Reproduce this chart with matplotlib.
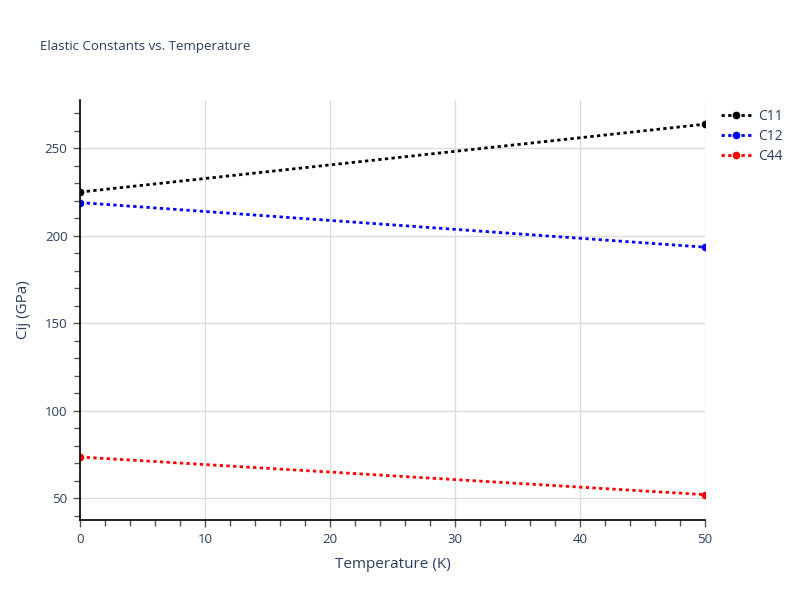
import matplotlib.pyplot as plt
from matplotlib.ticker import MultipleLocator

plt.rcParams['font.family'] = ['Open Sans', 'DejaVu Sans']

temperature = [0, 50]
c11 = [224.9, 263.7]
c12 = [218.9, 193.4]
c44 = [73.5, 52.0]
series_names = ['C11', 'C12', 'C44']
series_colors = ['black', 'blue', 'red']

TEXT = '#2a3f5f'
GRID = '#dcdcdc'

fig = plt.figure(figsize=(8, 6), dpi=100)
ax = fig.add_axes([0.1, 0.1333, 0.78125, 0.7])

for vals, name, col in zip([c11, c12, c44], series_names, series_colors):
    ax.plot(temperature, vals, linestyle=(0, (1.2, 1.2)), linewidth=2, color=col,
            marker='o', markersize=4.5, label=name, clip_on=True)

ax.set_xlim(0, 50)
ax.set_ylim(37.5, 277.5)
ax.xaxis.set_major_locator(MultipleLocator(10))
ax.xaxis.set_minor_locator(MultipleLocator(2))
ax.yaxis.set_major_locator(MultipleLocator(50))
ax.yaxis.set_minor_locator(MultipleLocator(10))
ax.grid(True, which='major', color=GRID, linewidth=1)
ax.set_axisbelow(True)

for side in ['top', 'right']:
    ax.spines[side].set_visible(False)
for side in ['left', 'bottom']:
    ax.spines[side].set_color('black')
    ax.spines[side].set_linewidth(1.2)

ax.tick_params(which='both', direction='out', color='#555555', labelcolor=TEXT, labelsize=9.5)
ax.tick_params(which='major', length=5, width=1, pad=4)
ax.tick_params(which='minor', length=4, width=1)

ax.set_xlabel('Temperature (K)', color=TEXT, fontsize=11, labelpad=8)
ax.set_ylabel('Cij (GPa)', color=TEXT, fontsize=11, labelpad=10)

fig.text(0.05, 0.923, 'Elastic Constants vs. Temperature', color=TEXT, fontsize=9.5,
         va='center', ha='left')

leg = ax.legend(loc='upper left', bbox_to_anchor=(1.005, 1.008), frameon=False,
                fontsize=10, labelcolor=TEXT, handlelength=2.2, handletextpad=0.5,
                labelspacing=0.35)

fig.savefig('out.png', dpi=100)
